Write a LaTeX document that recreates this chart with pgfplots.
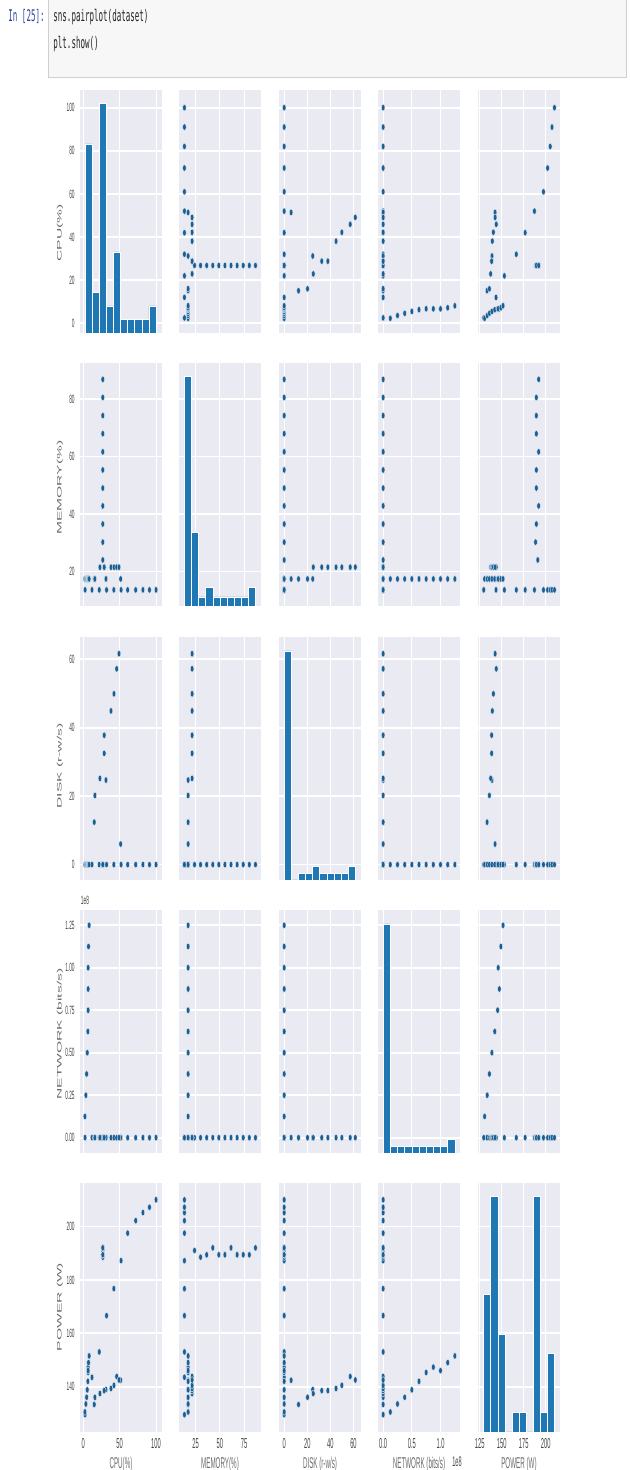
\documentclass[border=0pt]{standalone}
\usepackage{fontspec}
\setmainfont{Liberation Sans}
\newfontfamily\codefont{DejaVu Sans Mono}
\usepackage{graphicx}
\usepackage{pgfplots}
\usepackage{pgfplotstable}
\pgfplotsset{compat=1.18}
\definecolor{bgc}{HTML}{EAEAF2}
\definecolor{barc}{HTML}{1F77B4}
\definecolor{dotc}{HTML}{1C5E92}
\definecolor{dotedge}{HTML}{DDEBF6}
\definecolor{labc}{HTML}{6A6A6A}
\definecolor{tickc}{HTML}{444444}
\definecolor{promptc}{HTML}{303F9F}
\definecolor{boxfill}{HTML}{F7F7F7}
\definecolor{boxdraw}{HTML}{CFCFCF}

\newcommand{\tl}[1]{\scalebox{0.4}[1]{#1}}
\newcommand{\xl}[1]{\scalebox{0.4}[1]{#1}}
\newcommand{\cd}[1]{\scalebox{0.47}[1]{\codefont\fontsize{8}{9}\selectfont #1}}

% dataset: CPU(%), MEMORY(%), DISK (r-w/s), NETWORK (bits/s, in 1e8), POWER (W)
\pgfplotstableread{
cpu mem disk net power
2.5 13.6 0 0 129.5
12 13.6 0 0 143.5
22 13.6 0 0 153.0
32 13.6 0 0 166.6
42 13.6 0 0 176.7
52 13.6 0 0 187.2
61 13.6 0 0 197.5
72 13.6 0 0 202.2
82 13.6 0 0 205.2
91 13.6 0 0 207.2
100 13.6 0 0 210.0
26.8 24.0 0 0 191.0
26.8 30.2 0 0 188.5
26.8 36.5 0 0 189.4
26.8 42.8 0 0 192.0
26.8 49.0 0 0 189.4
26.8 55.3 0 0 189.4
26.8 61.6 0 0 192.0
26.8 67.9 0 0 189.4
26.8 74.2 0 0 189.4
26.8 80.5 0 0 189.4
26.8 86.8 0 0 192.0
51.4 17.4 6.0 0 142.4
15.1 17.4 12.4 0 133.3
16.0 17.4 20.2 0 136.0
31.2 17.4 24.7 0 138.9
22.9 21.5 25.2 0 137.4
28.8 21.5 32.5 0 138.5
28.8 21.5 37.8 0 138.5
38.1 21.5 44.9 0 139.3
42.2 21.5 49.9 0 140.5
45.9 21.5 57.2 0 143.8
49.1 21.5 61.6 0 142.5
2.3 17.4 0 0.125 130.5
3.6 17.4 0 0.25 133.5
4.6 17.4 0 0.375 136.0
5.5 17.4 0 0.5 138.8
6.3 17.4 0 0.625 142.0
6.7 17.4 0 0.75 145.3
6.7 17.4 0 0.875 147.3
6.7 17.4 0 1.0 146.0
7.2 17.4 0 1.125 149.0
8.1 17.4 0 1.25 151.5
}\data

% histogram bins (left edge, count); last row closes the interval
\pgfplotstableread{
e c
2.5 14
12.25 3
22 17
31.75 2
41.5 6
51.25 1
61 1
70.75 1
80.5 1
90.25 2
100 2
}\hcpu
\pgfplotstableread{
e c
13.6 25
20.92 8
28.24 1
35.56 2
42.88 1
50.2 1
57.52 1
64.84 1
72.16 1
79.48 2
86.8 2
}\hmem
\pgfplotstableread{
e c
0 33
6.16 0
12.32 1
18.48 1
24.64 2
30.8 1
36.96 1
43.12 1
49.28 1
55.44 2
61.6 2
}\hdisk
\pgfplotstableread{
e c
0 33
0.125 1
0.25 1
0.375 1
0.5 1
0.625 1
0.75 1
0.875 1
1.0 1
1.125 2
1.25 2
}\hnet
\pgfplotstableread{
e c
129.5 7
137.55 12
145.6 5
153.65 0
161.7 1
169.75 1
177.8 0
185.85 12
193.9 1
201.95 4
210 4
}\hpower

\pgfplotsset{
  pp/.style={anchor=south west, width=41pt, height=121.5pt, scale only axis,
    axis background/.style={fill=bgc}, axis line style={draw=none},
    major tick length=0pt, xmajorgrids, ymajorgrids,
    x grid style={white, line width=0.5pt}, y grid style={white, line width=0.9pt},
    xticklabels={}, yticklabels={},
    ticklabel style={text=tickc, inner sep=0pt},
    yticklabel style={font=\fontsize{6}{6}\selectfont, anchor=east, xshift=-2.5pt},
    xticklabel style={font=\fontsize{7.2}{7.2}\selectfont, anchor=north, yshift=-3pt}},
  xcpu/.style={xmin=-4.5, xmax=108.2, xtick={0,50,100}},
  ycpu/.style={ymin=-4.5, ymax=108.2, ytick={0,20,40,60,80,100}},
  xmem/.style={xmin=8, xmax=92.5, xtick={25,50,75}},
  ymem/.style={ymin=8, ymax=92.5, ytick={20,40,60,80}},
  xdisk/.style={xmin=-4.5, xmax=66.5, xtick={0,20,40,60}},
  ydisk/.style={ymin=-4.5, ymax=66.5, ytick={0,20,40,60}},
  xnet/.style={xmin=-0.09, xmax=1.34, xtick={0,0.5,1}},
  ynet/.style={ymin=-0.09, ymax=1.34, ytick={0,0.25,0.5,0.75,1,1.25}},
  xpower/.style={xmin=123, xmax=216.3, xtick={125,150,175,200}},
  ypower/.style={ymin=123, ymax=216.3, ytick={140,160,180,200}},
  lcpu/.style={yticklabels={\tl{0},\tl{20},\tl{40},\tl{60},\tl{80},\tl{100}}},
  lmem/.style={yticklabels={\tl{20},\tl{40},\tl{60},\tl{80}}},
  ldisk/.style={yticklabels={\tl{0},\tl{20},\tl{40},\tl{60}}},
  lnet/.style={yticklabels={\tl{0.00},\tl{0.25},\tl{0.50},\tl{0.75},\tl{1.00},\tl{1.25}}},
  lpower/.style={yticklabels={\tl{140},\tl{160},\tl{180},\tl{200}}},
  bcpu/.style={xticklabels={\tl{0},\tl{50},\tl{100}}},
  bmem/.style={xticklabels={\tl{25},\tl{50},\tl{75}}},
  bdisk/.style={xticklabels={\tl{0},\tl{20},\tl{40},\tl{60}}},
  bnet/.style={xticklabels={\tl{0.0},\tl{0.5},\tl{1.0}}},
  bpower/.style={xticklabels={\tl{125},\tl{150},\tl{175},\tl{200}}},
}

\newcommand{\scat}[5]{%
\begin{axis}[pp, at={(#1pt,#2pt)}, x#3, y#4, #5]
\addplot[only marks, mark=*, mark size=1.65pt,
  mark options={xscale=0.55, fill=dotc, draw=dotedge, line width=0.2pt}]
  table[x=#3, y=#4] {\data};
\end{axis}}

\newcommand{\diag}[6]{%
\begin{axis}[pp, at={(#1pt,#2pt)}, x#3, y#3, #5]
\end{axis}
\begin{axis}[anchor=south west, at={(#1pt,#2pt)}, width=41pt, height=121.5pt,
  scale only axis, hide axis, x#3, ymin=0, ymax=#4, #5]
\addplot[ybar interval, fill=barc, draw=white, line width=0.3pt] table[x=e, y=c] {#6};
\end{axis}}

\begin{document}
\begin{tikzpicture}
\useasboundingbox (0,0) rectangle (315pt,735pt);
% notebook header
\draw[boxdraw, fill=boxfill, line width=0.5pt] (24pt,696pt) rectangle (313pt,737pt);
\node[anchor=west, inner sep=0pt, text=promptc] at (4pt,726.5pt) {\cd{In [25]:}};
\node[anchor=west, inner sep=0pt, text=black!85] at (26.5pt,726.5pt) {\cd{sns.pairplot(dataset)}};
\node[anchor=west, inner sep=0pt, text=black!85] at (26.5pt,713pt) {\cd{plt.show()}};

% row 1: CPU
\diag{40}{568.5}{cpu}{18}{lcpu}{\hcpu}
\scat{89.5}{568.5}{mem}{cpu}{}
\scat{139.5}{568.5}{disk}{cpu}{}
\scat{189}{568.5}{net}{cpu}{}
\scat{239}{568.5}{power}{cpu}{}
% row 2: MEMORY
\scat{40}{432}{cpu}{mem}{lmem}
\diag{89.5}{432}{mem}{26.5}{}{\hmem}
\scat{139.5}{432}{disk}{mem}{}
\scat{189}{432}{net}{mem}{}
\scat{239}{432}{power}{mem}{}
% row 3: DISK
\scat{40}{295}{cpu}{disk}{ldisk}
\scat{89.5}{295}{mem}{disk}{}
\diag{139.5}{295}{disk}{35}{}{\hdisk}
\scat{189}{295}{net}{disk}{}
\scat{239}{295}{power}{disk}{}
% row 4: NETWORK
\scat{40}{158.5}{cpu}{net}{lnet}
\scat{89.5}{158.5}{mem}{net}{}
\scat{139.5}{158.5}{disk}{net}{}
\diag{189}{158.5}{net}{35}{}{\hnet}
\scat{239}{158.5}{power}{net}{}
% row 5: POWER
\scat{40}{19}{cpu}{power}{lpower, bcpu, height=124.5pt}
\scat{89.5}{19}{mem}{power}{bmem, height=124.5pt}
\scat{139.5}{19}{disk}{power}{bdisk, height=124.5pt}
\scat{189}{19}{net}{power}{bnet, height=124.5pt}
\diag{239}{19}{power}{12.7}{bpower, height=124.5pt}{\hpower}

% axis labels
\begin{scope}[every node/.style={text=labc, font=\fontsize{7.8}{8}\selectfont, inner sep=0pt}]
\node[rotate=90] at (30pt,618.5pt) {\scalebox{1}[0.42]{CPU(\%)}};
\node[rotate=90] at (30pt,491.25pt) {\scalebox{1}[0.42]{MEMORY(\%)}};
\node[rotate=90] at (30pt,352pt) {\scalebox{1}[0.42]{DISK (r-w/s)}};
\node[rotate=90] at (30pt,218pt) {\scalebox{1}[0.42]{NETWORK (bits/s)}};
\node[rotate=90] at (30pt,81.5pt) {\scalebox{1}[0.42]{POWER (W)}};
\node[anchor=base] at (60.5pt,1pt) {\xl{CPU(\%)}};
\node[anchor=base] at (110pt,1pt) {\xl{MEMORY(\%)}};
\node[anchor=base] at (160pt,1pt) {\xl{DISK (r-w/s)}};
\node[anchor=base] at (209.5pt,1pt) {\xl{NETWORK (bits/s)}};
\node[anchor=base] at (259.5pt,1pt) {\xl{POWER (W)}};
\end{scope}
\node[text=tickc, font=\fontsize{6}{6}\selectfont, inner sep=0pt] at (42.5pt,285pt) {\tl{1e8}};
\node[text=tickc, font=\fontsize{7}{7}\selectfont, inner sep=0pt] at (228.5pt,4pt) {\tl{1e8}};
\end{tikzpicture}
\end{document}
